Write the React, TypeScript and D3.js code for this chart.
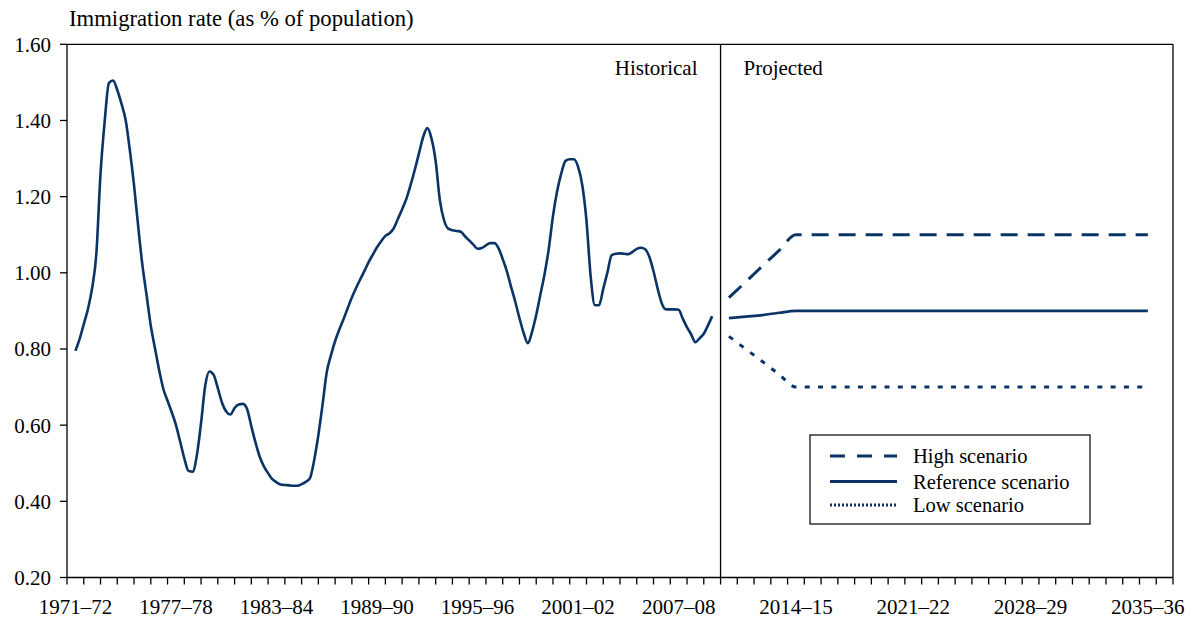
import React from 'react';
import * as d3 from 'd3';

// Financial years 1971–72 … 2036–37 (category axis)
const categories: string[] = d3.range(1971, 2037).map(
  (y) => `${y}–${String((y + 1) % 100).padStart(2, '0')}`
);

const xTickLabels = [
  '1971–72', '1977–78', '1983–84', '1989–90', '1995–96', '2001–02',
  '2007–08', '2014–15', '2021–22', '2028–29', '2035–36',
];

const yTickValues = [0.2, 0.4, 0.6, 0.8, 1.0, 1.2, 1.4, 1.6];

// Historical immigration rate, quarterly readings from 1971–72 to 2009–10
const historicalStart = '1971–72';
const historicalQuarterly = [
  0.795, 0.826, 0.865, 0.905, 0.960, 1.049, 1.260, 1.398, 1.498, 1.505,
  1.480, 1.444, 1.401, 1.322, 1.230, 1.121, 1.020, 0.941, 0.861, 0.802,
  0.744, 0.695, 0.664, 0.634, 0.601, 0.557, 0.513, 0.480, 0.478, 0.521,
  0.606, 0.704, 0.741, 0.732, 0.697, 0.659, 0.636, 0.628, 0.645, 0.654,
  0.656, 0.642, 0.597, 0.554, 0.517, 0.492, 0.474, 0.458, 0.450, 0.444,
  0.443, 0.442, 0.441, 0.441, 0.445, 0.451, 0.461, 0.508, 0.574, 0.654,
  0.739, 0.783, 0.821, 0.851, 0.878, 0.907, 0.935, 0.960, 0.983, 1.005,
  1.028, 1.048, 1.067, 1.083, 1.097, 1.104, 1.117, 1.142, 1.167, 1.194,
  1.230, 1.270, 1.313, 1.356, 1.380, 1.353, 1.293, 1.191, 1.138, 1.116,
  1.112, 1.110, 1.108, 1.096, 1.085, 1.074, 1.063, 1.065, 1.072, 1.078,
  1.078, 1.065, 1.036, 1.004, 0.963, 0.924, 0.881, 0.842, 0.815, 0.845,
  0.889, 0.943, 0.997, 1.063, 1.149, 1.215, 1.262, 1.294, 1.298, 1.298,
  1.278, 1.230, 1.137, 0.990, 0.915, 0.915, 0.958, 1.001, 1.046, 1.050,
  1.051, 1.050, 1.049, 1.055, 1.063, 1.066, 1.062, 1.042, 1.004, 0.958,
  0.919, 0.904, 0.904, 0.904, 0.903, 0.879, 0.857, 0.838, 0.818, 0.828,
  0.840, 0.862, 0.886,
];

// Projections 2010–11 … 2035–36
const projectionStart = '2010–11';
const highScenario = [
  0.935, 0.976, 1.018, 1.059, 1.10, 1.10, 1.10, 1.10, 1.10, 1.10,
  1.10, 1.10, 1.10, 1.10, 1.10, 1.10, 1.10, 1.10, 1.10, 1.10,
  1.10, 1.10, 1.10, 1.10, 1.10, 1.10,
];
const referenceScenario = [
  0.881, 0.885, 0.889, 0.895, 0.90, 0.90, 0.90, 0.90, 0.90, 0.90,
  0.90, 0.90, 0.90, 0.90, 0.90, 0.90, 0.90, 0.90, 0.90, 0.90,
  0.90, 0.90, 0.90, 0.90, 0.90, 0.90,
];
const lowScenario = [
  0.833, 0.800, 0.767, 0.733, 0.70, 0.70, 0.70, 0.70, 0.70, 0.70,
  0.70, 0.70, 0.70, 0.70, 0.70, 0.70, 0.70, 0.70, 0.70, 0.70,
  0.70, 0.70, 0.70, 0.70, 0.70, 0.70,
];

const legendItems = [
  { label: 'High scenario', key: 'high' },
  { label: 'Reference scenario', key: 'ref' },
  { label: 'Low scenario', key: 'low' },
];

const W = 1192;
const H = 621;
const LEFT = 67;
const RIGHT = 1173;
const TOP = 44.3;
const BOTTOM = 577.5;
const NAVY = '#0a3466';
const FONT = "'Liberation Serif', 'DejaVu Serif', serif";
const FS = 21;

export default function App() {
  const x = d3.scaleLinear().domain([0, categories.length]).range([LEFT, RIGHT]);
  const y = d3.scaleLinear().domain([0.2, 1.6]).range([BOTTOM, TOP]);

  const hStart = categories.indexOf(historicalStart);
  const pStart = categories.indexOf(projectionStart);

  const histLine = d3
    .line<number>()
    .x((_, i) => x(hStart + 0.5 + i / 4))
    .y((d) => y(d))
    .curve(d3.curveMonotoneX);

  const projLine = d3
    .line<number>()
    .x((_, i) => x(pStart + 0.5 + i))
    .y((d) => y(d))
    .curve(d3.curveMonotoneX);

  const tickIdx = d3.range(0, categories.length + 1);
  const divX = x(pStart);

  const styles: Record<string, { dash?: string; width: number; legendDash?: string; legendWidth: number }> = {
    high: { dash: '17 10', width: 3, legendDash: '15 12', legendWidth: 3 },
    ref: { width: 2.6, legendWidth: 3 },
    low: { dash: '5 8.3', width: 3, legendDash: '2 2', legendWidth: 3 },
  };

  const legendX = 810;
  const legendY = 435;
  const rowYs = [456, 481.5, 505];
  const txt = { fontFamily: FONT, fontSize: FS } as React.CSSProperties;

  return (
    <svg
      width={W}
      height={H}
      style={{ position: 'absolute', left: 0, top: 0, display: 'block', background: '#fff', fontFamily: FONT }}
    >
      {/* title */}
      <text x={69} y={26} style={{ ...txt, fontSize: 22.7 }} fill="#000">
        Immigration rate (as % of population)
      </text>

      {/* frame */}
      <line x1={LEFT} x2={RIGHT} y1={TOP} y2={TOP} stroke="#000" strokeWidth={1.3} />
      <line x1={RIGHT} x2={RIGHT} y1={TOP} y2={BOTTOM} stroke="#000" strokeWidth={1.3} />
      <line x1={LEFT} x2={LEFT} y1={TOP} y2={BOTTOM} stroke="#000" strokeWidth={1.3} />
      <line x1={LEFT} x2={RIGHT} y1={BOTTOM} y2={BOTTOM} stroke="#000" strokeWidth={1.3} />
      <line x1={divX} x2={divX} y1={TOP} y2={BOTTOM} stroke="#000" strokeWidth={1.3} />

      {/* y axis ticks */}
      {yTickValues.map((v) => (
        <g key={v}>
          <line x1={LEFT - 7} x2={LEFT} y1={y(v)} y2={y(v)} stroke="#000" strokeWidth={1.3} />
          <text x={51} y={y(v)} dy="0.35em" textAnchor="end" style={txt} fill="#000">
            {v.toFixed(2)}
          </text>
        </g>
      ))}

      {/* x axis ticks */}
      {tickIdx.map((i) => (
        <line key={i} x1={x(i)} x2={x(i)} y1={BOTTOM} y2={BOTTOM + 7} stroke="#000" strokeWidth={1.3} />
      ))}
      {xTickLabels.map((lab) => {
        const i = categories.indexOf(lab);
        return (
          <text key={lab} x={x(i + 0.5)} y={614} textAnchor="middle" style={txt} fill="#000">
            {lab}
          </text>
        );
      })}

      {/* section labels */}
      <text x={divX - 23} y={75} textAnchor="end" style={txt} fill="#000">
        Historical
      </text>
      <text x={divX + 23} y={75} style={txt} fill="#000">
        Projected
      </text>

      {/* historical series */}
      <path d={histLine(historicalQuarterly) || ''} fill="none" stroke={NAVY} strokeWidth={2.6} strokeLinejoin="round" />

      {/* projections */}
      <path d={projLine(highScenario) || ''} fill="none" stroke={NAVY} strokeWidth={styles.high.width} strokeDasharray={styles.high.dash} />
      <path d={projLine(referenceScenario) || ''} fill="none" stroke={NAVY} strokeWidth={styles.ref.width} />
      <path d={projLine(lowScenario) || ''} fill="none" stroke={NAVY} strokeWidth={styles.low.width} strokeDasharray={styles.low.dash} />

      {/* legend */}
      <rect x={legendX} y={legendY} width={280} height={89} fill="#fff" stroke="#000" strokeWidth={1.2} />
      {legendItems.map((it, k) => {
        const s = styles[it.key];
        return (
          <g key={it.key}>
            <line
              x1={830}
              x2={897}
              y1={rowYs[k]}
              y2={rowYs[k]}
              stroke={NAVY}
              strokeWidth={s.legendWidth}
              strokeDasharray={s.legendDash}
            />
            <text x={913} y={rowYs[k]} dy="0.35em" style={{ ...txt, fontSize: FS - 0.5 }} fill="#000">
              {it.label}
            </text>
          </g>
        );
      })}
    </svg>
  );
}
